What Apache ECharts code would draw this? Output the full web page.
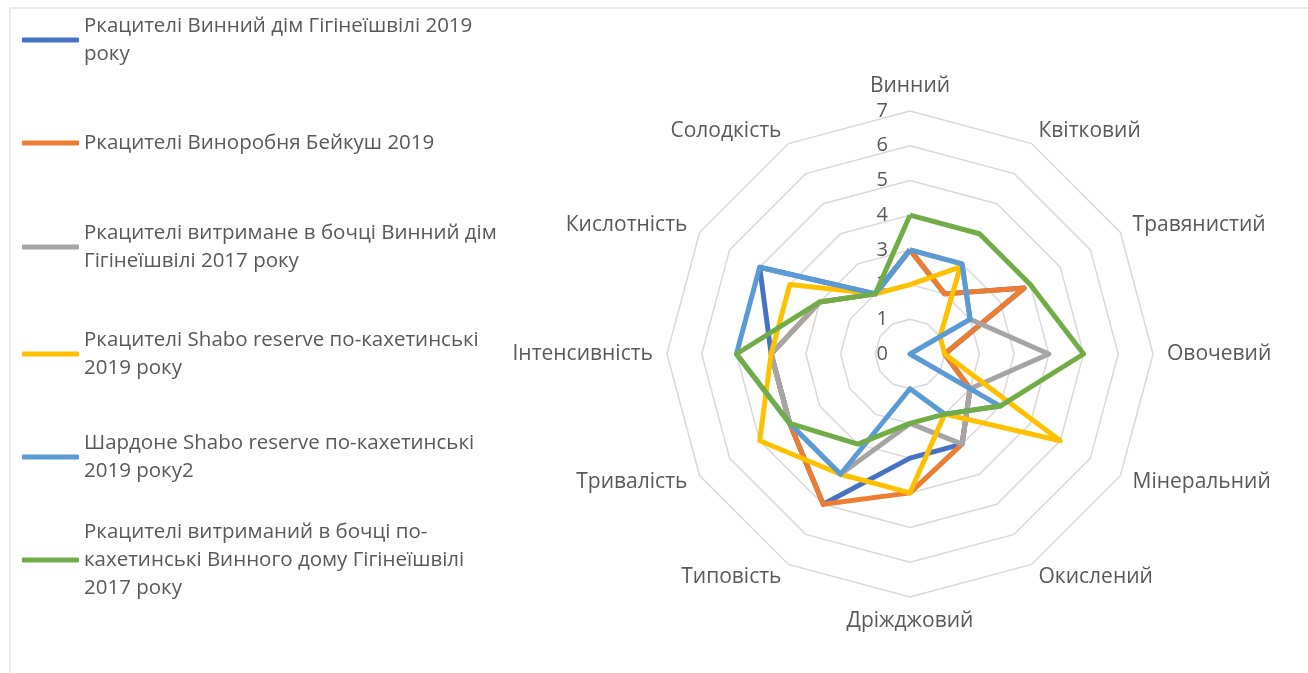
<!DOCTYPE html>
<html>
<head>
<meta charset="utf-8">
<script src="https://cdn.jsdelivr.net/npm/echarts@6/dist/echarts.min.js"></script>
<style>
  html, body { margin: 0; padding: 0; background: #fff; }
  #chart { width: 1308px; height: 673px; }
</style>
</head>
<body>
<div id="chart"></div>
<script>
// осі радару, за годинниковою стрілкою від верху
const categories = ['Винний', 'Квітковий', 'Травянистий', 'Овочевий', 'Мінеральний', 'Окислений',
  'Дріжджовий', 'Типовість', 'Тривалість', 'Інтенсивність', 'Кислотність', 'Солодкість'];

const seriesNames = [
  'Ркацителі Винний дім Гігінеїшвілі 2019 року',
  'Ркацителі Виноробня Бейкуш 2019',
  'Ркацителі витримане в бочці Винний дім Гігінеїшвілі 2017 року',
  'Ркацителі Shabo reserve по-кахетинські 2019 року',
  'Шардоне Shabo reserve по-кахетинські 2019 року2',
  'Ркацителі витриманий в бочці по-кахетинські Винного дому Гігінеїшвілі 2017 року'
];

// як переноситься текст легенди
const legendLines = [
  ['Ркацителі Винний дім Гігінеїшвілі 2019', 'року'],
  ['Ркацителі Виноробня Бейкуш 2019'],
  ['Ркацителі витримане в бочці Винний дім', 'Гігінеїшвілі 2017 року'],
  ['Ркацителі Shabo reserve по-кахетинські', '2019 року'],
  ['Шардоне Shabo reserve по-кахетинські', '2019 року2'],
  ['Ркацителі витриманий в бочці по-', 'кахетинські Винного дому Гігінеїшвілі', '2017 року']
];

const gigineishvili2019 = [3, 2, 3.8, 1, 2, 3, 3, 5, 4, 4, 5, 2];
const beikush2019 = [3, 2, 3.8, 1, 2, 3, 4, 5, 4, 4, 3, 2];
const barrel2017 = [3, 3, 2, 4, 2, 3, 2, 4, 4, 4, 3, 2];
const shabo2019 = [2, 2.9, 1, 1, 5, 2, 4, 4, 5, 4, 4, 2];
const chardonnay2019 = [3, 3, 2, 0, 3, 2, 1, 4, 4, 5, 5, 2];
const kakhetian2017 = [4, 4, 4, 5, 3, 2, 2, 3, 4, 5, 3, 2];

const tickLabels = ['0', '1', '2', '3', '4', '5', '6', '7'];

const allValues = [gigineishvili2019, beikush2019, barrel2017, shabo2019, chardonnay2019, kakhetian2017];
const colors = ['#4472C4', '#ED7D31', '#A5A5A5', '#FFC000', '#5B9BD5', '#70AD47'];

// перший рядок кожного пункту легенди (y центру)
const legendFirstLineY = [40, 143, 247, 354, 457, 560];
const lineH = 28;

const FONT = 'Open Sans';
const TEXT_COLOR = '#595959';

// radar в echarts іде проти годинникової, тому переставляємо осі
let order = [0];
for (let i = categories.length - 1; i > 0; i--)
{
  order.push(i);
}

let chart = echarts.init(document.getElementById('chart'));

let indicator = order.map((idx, i) =>
{
  let item = { name: categories[idx], min: 0, max: 7 };
  if (i === 0)
  {
    // підписи шкали лише на першій осі
    item.axisLabel = {
      show: true,
      color: TEXT_COLOR,
      fontSize: 20,
      fontFamily: FONT,
      margin: 22,
      formatter: function (v)
      {
        return tickLabels[v] !== undefined ? tickLabels[v] : '';
      }
    };
  }
  return item;
});

let legends = seriesNames.map((name, i) =>
{
  let n = legendLines[i].length;
  return {
    left: 22,
    top: legendFirstLineY[i] - lineH / 2 - (n - 1) * lineH,
    padding: 0,
    orient: 'vertical',
    icon: 'roundRect',
    itemWidth: 57,
    itemHeight: 5,
    data: [name],
    formatter: function ()
    {
      return legendLines[i].join('\n');
    },
    textStyle: {
      color: TEXT_COLOR,
      fontSize: 20.5,
      fontFamily: FONT,
      lineHeight: lineH,
      padding: [(n - 1) * lineH, 0, 0, 0]
    }
  };
});

let option = {
  animation: false,
  color: colors,
  legend: legends,
  graphic: [
    {
      type: 'polyline',
      shape: { points: [[10, 673], [10, 8], [1308, 8]] },
      style: { stroke: '#D9D9D9', lineWidth: 1, fill: null },
      silent: true
    }
  ],
  radar: {
    center: [910, 354],
    radius: 243,
    startAngle: 90,
    splitNumber: 7,
    shape: 'polygon',
    indicator: indicator,
    nameGap: 14,
    axisName: {
      color: TEXT_COLOR,
      fontSize: 21,
      fontFamily: FONT
    },
    axisLine: { show: false },
    axisTick: { show: false },
    axisLabel: { show: false },
    splitLine: {
      lineStyle: { color: '#D9D9D9', width: 1.5 }
    },
    splitArea: { show: false }
  },
  series: [
    {
      type: 'radar',
      symbol: 'none',
      data: allValues.map((vals, i) => ({
        name: seriesNames[i],
        value: order.map(idx => vals[idx]),
        lineStyle: { color: colors[i], width: 5, join: 'round' },
        itemStyle: { color: colors[i] }
      }))
    }
  ]
};

chart.setOption(option);
</script>
</body>
</html>
